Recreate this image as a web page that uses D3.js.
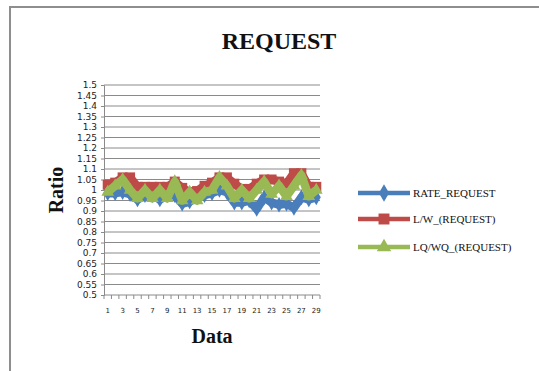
<!DOCTYPE html>
<html>
<head>
<meta charset="utf-8">
<script src="https://cdn.jsdelivr.net/npm/d3@7"></script>
<style>
  html, body { margin: 0; padding: 0; background: #fff; }
  svg { display: block; }
</style>
</head>
<body>
<svg id="chart" width="539" height="371"></svg>
<script>
// Category labels 1..29
const categories = ["1","2","3","4","5","6","7","8","9","10","11","12","13","14","15",
  "16","17","18","19","20","21","22","23","24","25","26","27","28","29"];

// Series values
const rateRequest = [0.985, 0.985, 0.99, 0.98, 0.955, 0.975, 0.975, 0.955, 0.975, 0.975, 0.935, 0.945, 0.965, 0.975, 0.985,
  1.0, 0.99, 0.94, 0.94, 0.95, 0.91, 0.965, 0.94, 0.93, 0.935, 0.915, 0.965, 0.955, 0.965];
const lwRequest = [1.025, 1.035, 1.06, 1.06, 1.015, 1.015, 1.015, 1.015, 1.015, 1.04, 1.01, 0.99, 0.995, 1.02, 1.035,
  1.06, 1.06, 1.03, 1.005, 1.005, 1.03, 1.05, 1.05, 1.04, 1.03, 1.08, 1.08, 1.015, 1.015];
const lqwqRequest = [0.99, 1.02, 1.05, 1.0, 0.96, 1.0, 0.96, 1.0, 0.96, 1.04, 0.95, 0.99, 0.95, 0.99, 1.0,
  1.06, 1.02, 0.96, 1.0, 0.96, 1.0, 1.04, 0.98, 1.02, 0.97, 1.02, 1.07, 0.97, 1.0];

// Y tick values and x tick labels
const yTicks = [0.5, 0.55, 0.6, 0.65, 0.7, 0.75, 0.8, 0.85, 0.9, 0.95, 1, 1.05, 1.1, 1.15, 1.2,
  1.25, 1.3, 1.35, 1.4, 1.45, 1.5];
const xTickLabels = ["1","3","5","7","9","11","13","15","17","19","21","23","25","27","29"];

const seriesNames = ["RATE_REQUEST", "L/W_(REQUEST)", "LQ/WQ_(REQUEST)"];
const seriesColors = ["#4a7ebb", "#be4b48", "#98b954"];
const seriesShapes = [d3.symbolDiamond, d3.symbolSquare, d3.symbolTriangle];
const seriesSizes = [70, 100, 70];
const seriesValues = [rateRequest, lwRequest, lqwqRequest];

const svg = d3.select("#chart");
const serif = "'Liberation Serif', 'DejaVu Serif', serif";
const sans = "'DejaVu Sans', sans-serif";

svg.append("rect").attr("width", 539).attr("height", 371).attr("fill", "#fff");
// Outer chart frame
svg.append("rect")
  .attr("x", 10).attr("y", 7).attr("width", 560).attr("height", 400)
  .attr("fill", "none").attr("stroke", "#8e8e8e").attr("stroke-width", 2);

// Title
svg.append("text")
  .attr("x", 279).attr("y", 49)
  .attr("text-anchor", "middle")
  .attr("font-family", serif).attr("font-weight", "bold").attr("font-size", 24)
  .attr("fill", "#111")
  .text("REQUEST");

const plot = { left: 104, right: 320, top: 85, bottom: 295 };

const x = d3.scaleBand().domain(categories).range([plot.left, plot.right]).padding(0);
const y = d3.scaleLinear().domain([0.5, 1.5]).range([plot.bottom, plot.top]);
const cx = d => x(d) + x.bandwidth() / 2;

// Horizontal gridlines
svg.append("g")
  .selectAll("line")
  .data(yTicks.filter(t => t > 0.5))
  .join("line")
  .attr("x1", plot.left).attr("x2", plot.right)
  .attr("y1", d => y(d)).attr("y2", d => y(d))
  .attr("stroke", "#8a8a8a").attr("stroke-width", 1);

// Y axis
const yAxis = svg.append("g")
  .attr("transform", `translate(${plot.left},0)`)
  .call(d3.axisLeft(y).tickValues(yTicks).tickSize(3).tickPadding(4)
    .tickFormat(d => String(+d.toFixed(2))));
yAxis.select(".domain").attr("stroke", "#8a8a8a");
yAxis.selectAll(".tick line").attr("stroke", "#8a8a8a");
yAxis.selectAll("text")
  .attr("font-family", sans).attr("font-size", 9).attr("fill", "#222");

// X axis with ticks on category boundaries
const xAxisG = svg.append("g").attr("transform", `translate(0,${plot.bottom})`);
xAxisG.append("line")
  .attr("x1", plot.left).attr("x2", plot.right)
  .attr("stroke", "#8a8a8a");
const boundaries = categories.map(c => x(c)).concat([plot.right]);
xAxisG.selectAll("line.tk")
  .data(boundaries)
  .join("line")
  .attr("class", "tk")
  .attr("x1", d => d).attr("x2", d => d)
  .attr("y1", 0).attr("y2", 4)
  .attr("stroke", "#8a8a8a");
xAxisG.selectAll("text")
  .data(xTickLabels)
  .join("text")
  .attr("x", d => cx(d)).attr("y", 18)
  .attr("text-anchor", "middle")
  .attr("font-family", sans).attr("font-size", 7).attr("fill", "#222")
  .text(d => d);

// Axis titles
svg.append("text")
  .attr("transform", "translate(63,190) rotate(-90)")
  .attr("text-anchor", "middle")
  .attr("font-family", serif).attr("font-weight", "bold").attr("font-size", 20)
  .attr("fill", "#111")
  .text("Ratio");
svg.append("text")
  .attr("x", 212).attr("y", 343)
  .attr("text-anchor", "middle")
  .attr("font-family", serif).attr("font-weight", "bold").attr("font-size", 20)
  .attr("fill", "#111")
  .text("Data");

// Series: thick line then markers, drawn in series order
const line = d3.line().x((d, i) => cx(categories[i])).y(d => y(d));
seriesValues.forEach((vals, s) => {
  const g = svg.append("g");
  g.append("path")
    .datum(vals)
    .attr("d", line)
    .attr("fill", "none")
    .attr("stroke", seriesColors[s])
    .attr("stroke-width", 8.5)
    .attr("stroke-linejoin", "round");
  g.selectAll("path.m")
    .data(vals)
    .join("path")
    .attr("class", "m")
    .attr("transform", (d, i) => `translate(${cx(categories[i])},${y(d)})`)
    .attr("d", d3.symbol().type(seriesShapes[s]).size(seriesSizes[s]))
    .attr("fill", seriesColors[s]);
});

// Legend
const legendY = [193, 219, 247];
const legend = svg.append("g");
seriesNames.forEach((name, s) => {
  const ly = legendY[s];
  legend.append("line")
    .attr("x1", 358).attr("x2", 410).attr("y1", ly).attr("y2", ly)
    .attr("stroke", seriesColors[s]).attr("stroke-width", 4.5);
  legend.append("path")
    .attr("transform", `translate(384,${ly})`)
    .attr("d", d3.symbol().type(seriesShapes[s]).size(seriesSizes[s] + 20))
    .attr("fill", seriesColors[s]);
  legend.append("text")
    .attr("x", 413).attr("y", ly + 4)
    .attr("font-family", serif).attr("font-size", 11).attr("fill", "#111")
    .text(name);
});
</script>
</body>
</html>
